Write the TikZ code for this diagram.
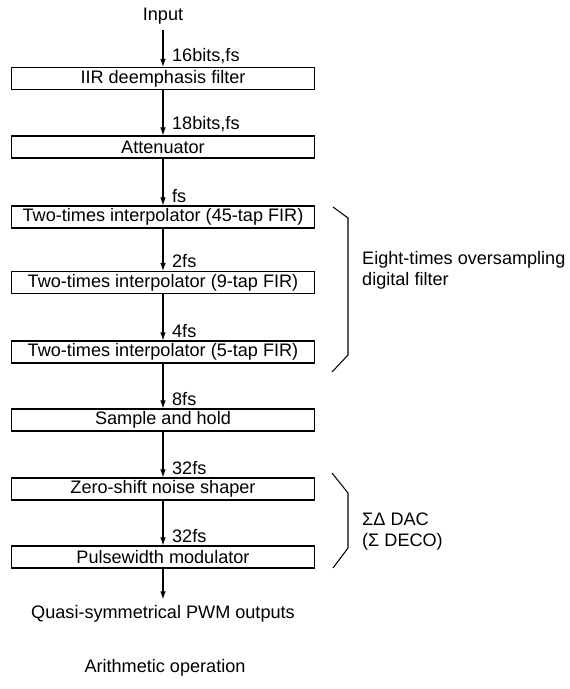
\documentclass[tikz,border=0pt]{standalone}
\usepackage{fontspec}
\setmainfont{Liberation Sans}
\usetikzlibrary{arrows.meta}

\tikzset{
	block/.style={rectangle,draw,line width=0.6pt,minimum width=6.06cm,minimum height=0.44cm,inner sep=0pt},
	rate/.style={anchor=south west,inner sep=1.5pt,xshift=0.12cm},
	>={Latex[length=1.6mm,width=1.1mm]}
}

\begin{document}
\begin{tikzpicture}[font=\fontsize{10.3}{12}\selectfont]
		\useasboundingbox (0,0) rectangle (11.38,-13.78);

		\node (input) at (3.26,-0.32) {Input};
		\node (iir)[block] at (3.26,-1.57) {IIR deemphasis filter};
		\node (att)[block] at (3.26,-2.94) {Attenuator};
		\node (fira)[block] at (3.26,-4.34) {Two-times interpolator (45-tap FIR)};
		\node (firb)[block] at (3.26,-5.65) {Two-times interpolator (9-tap FIR)};
		\node (firc)[block] at (3.26,-7.04) {Two-times interpolator (5-tap FIR)};
		\node (sh)[block] at (3.26,-8.40) {Sample and hold};
		\node (shaper)[block] at (3.26,-9.78) {Zero-shift noise shaper};
		\node (pwm)[block] at (3.26,-11.14) {Pulsewidth modulator};
		\node (output) at (3.26,-12.28) {Quasi-symmetrical PWM outputs};
		\node (arith) at (3.30,-13.36) {Arithmetic operation};

		\foreach \a/\b/\rate in {input/iir/{16bits,fs},iir/att/{18bits,fs},att/fira/fs,fira/firb/2fs,firb/firc/4fs,firc/sh/8fs,sh/shaper/32fs,shaper/pwm/32fs}{
			\draw[->,line width=0.6pt] (\a) -- (\b) node[rate,pos=1] {\rate};
		}
		\draw[->,line width=0.6pt] (pwm) -- (output);

%		oversampling filter bracket
		\draw[line width=0.6pt] (6.66,-4.14) -- (6.96,-4.36) -- (6.96,-7.10) -- (6.64,-7.44);
		\node (filter)[anchor=west,align=left] at (7.12,-5.41) {Eight-times oversampling\\digital filter};

%		delta-sigma bracket
		\draw[line width=0.6pt] (6.64,-9.46) -- (6.96,-9.86) -- (6.96,-10.96) -- (6.66,-11.36);
		\node (dac)[anchor=west,align=left] at (7.12,-10.63) {ΣΔ DAC\\(Σ DECO)};
	\end{tikzpicture}
\end{document}
